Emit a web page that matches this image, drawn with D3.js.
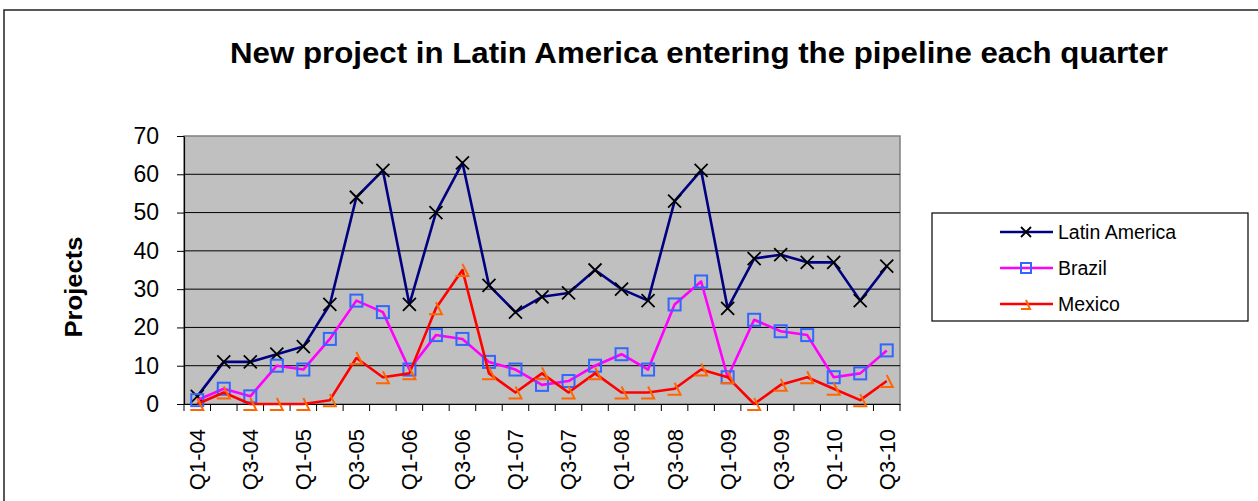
<!DOCTYPE html>
<html>
<head>
<meta charset="utf-8">
<script src="https://d3js.org/d3.v7.min.js"></script>
<style>
  html, body { margin: 0; padding: 0; background: #fff; }
  svg { display: block; font-family: Arial, "Liberation Sans", sans-serif; }
</style>
</head>
<body>
<svg id="chart" width="1258" height="501"></svg>
<script>
const categories = ["Q1-04","Q2-04","Q3-04","Q4-04","Q1-05","Q2-05","Q3-05","Q4-05",
  "Q1-06","Q2-06","Q3-06","Q4-06","Q1-07","Q2-07","Q3-07","Q4-07",
  "Q1-08","Q2-08","Q3-08","Q4-08","Q1-09","Q2-09","Q3-09","Q4-09",
  "Q1-10","Q2-10","Q3-10"];
const tickLabels = ["Q1-04","Q3-04","Q1-05","Q3-05","Q1-06","Q3-06","Q1-07","Q3-07",
  "Q1-08","Q3-08","Q1-09","Q3-09","Q1-10","Q3-10"];
const latinAmerica = [2,11,11,13,15,26,54,61,26,50,63,31,24,28,29,35,30,27,53,61,25,38,39,37,37,27,36];
const brazil       = [1,4,2,10,9,17,27,24,9,18,17,11,9,5,6,10,13,9,26,32,7,22,19,18,7,8,14];
const mexico       = [0,3,0,0,0,1,12,7,8,25,35,8,3,8,3,8,3,3,4,9,7,0,5,7,4,1,6];
const yTicks = [0,10,20,30,40,50,60,70];
const seriesNames = ["Latin America","Brazil","Mexico"];

const title = "New project in Latin America entering the pipeline each quarter";
const yTitle = "Projects";

const svg = d3.select("#chart");
const plot = {left: 184, right: 900, top: 136, bottom: 404};

// outer chart frame
svg.append("path")
  .attr("d", "M4,505 L4,10 L1262,10")
  .attr("fill", "none").attr("stroke", "#222").attr("stroke-width", 1.5);

const x = d3.scaleBand().domain(categories).range([plot.left, plot.right]).padding(0);
const y = d3.scaleLinear().domain([0, 70]).range([plot.bottom, plot.top]);
const cx = c => x(c) + x.bandwidth() / 2;

// plot area
svg.append("rect")
  .attr("x", plot.left).attr("y", plot.top)
  .attr("width", plot.right - plot.left).attr("height", plot.bottom - plot.top)
  .attr("fill", "#C0C0C0").attr("stroke", "#808080").attr("stroke-width", 1.5);

// gridlines
svg.append("g").selectAll("line").data(yTicks.filter(d => d > 0 && d < 70)).join("line")
  .attr("x1", plot.left).attr("x2", plot.right)
  .attr("y1", d => y(d)).attr("y2", d => y(d))
  .attr("stroke", "#000").attr("stroke-width", 1);

// y axis
const yAxis = svg.append("g").attr("transform", `translate(${plot.left},0)`)
  .call(d3.axisLeft(y).tickValues(yTicks).tickSize(7).tickPadding(18).tickSizeOuter(0));
yAxis.select(".domain").attr("stroke", "#000").attr("stroke-width", 1.2);
yAxis.selectAll(".tick line").attr("stroke", "#000");
yAxis.selectAll("text").attr("font-size", "23px").attr("fill", "#000")
  .attr("font-family", "Arial, 'Liberation Sans', sans-serif");

// x axis
const xAxis = svg.append("g").attr("transform", `translate(0,${plot.bottom})`)
  .call(d3.axisBottom(x).tickSize(0).tickFormat(d => tickLabels.includes(d) ? d : ""));
xAxis.select(".domain").attr("stroke", "#000").attr("stroke-width", 1.2);
xAxis.selectAll("text")
  .attr("font-size", "22px").attr("fill", "#000")
  .attr("font-family", "Arial, 'Liberation Sans', sans-serif")
  .attr("text-anchor", "end")
  .attr("transform", "rotate(-90)")
  .attr("x", -25).attr("y", 0).attr("dy", "0.36em");
// x boundary ticks
const bounds = categories.map(c => x(c)).concat([plot.right]);
svg.append("g").selectAll("line").data(bounds).join("line")
  .attr("x1", d => d).attr("x2", d => d)
  .attr("y1", plot.bottom).attr("y2", plot.bottom + 7)
  .attr("stroke", "#000").attr("stroke-width", 1);

// title
svg.append("text").text(title)
  .attr("x", 699).attr("y", 63).attr("text-anchor", "middle")
  .attr("font-size", "29px").attr("font-weight", "bold")
  .attr("textLength", 938).attr("lengthAdjust", "spacingAndGlyphs");

// y title
svg.append("text").text(yTitle)
  .attr("transform", "translate(82,287) rotate(-90)")
  .attr("text-anchor", "middle")
  .attr("font-size", "23px").attr("font-weight", "bold")
  .attr("textLength", 101).attr("lengthAdjust", "spacingAndGlyphs");

const series = [
  {name: seriesNames[0], values: latinAmerica, line: "#000080", marker: "x"},
  {name: seriesNames[1], values: brazil, line: "#FF00FF", marker: "square"},
  {name: seriesNames[2], values: mexico, line: "#FF0000", marker: "tri"}
];

function drawMarker(g, type, px, py) {
  if (type === "x") {
    g.append("path").attr("d", `M${px-6.5},${py-6.5}L${px+6.5},${py+6.5}M${px-6.5},${py+6.5}L${px+6.5},${py-6.5}`)
      .attr("stroke", "#000").attr("stroke-width", 1.8).attr("fill", "none");
  } else if (type === "square") {
    g.append("rect").attr("x", px-6).attr("y", py-6).attr("width", 12).attr("height", 12)
      .attr("fill", "none").attr("stroke", "#3366FF").attr("stroke-width", 2);
  } else {
    g.append("path").attr("d", `M${px},${py-6}L${px+6},${py+6}L${px-7},${py+6}`)
      .attr("fill", "none").attr("stroke", "#FF6600").attr("stroke-width", 2);
  }
}

const line = d3.line().x((d, i) => cx(categories[i])).y(d => y(d));
series.forEach(s => {
  const g = svg.append("g");
  g.append("path").datum(s.values).attr("d", line)
    .attr("fill", "none").attr("stroke", s.line).attr("stroke-width", 2.6)
    .attr("stroke-linejoin", "round");
  s.values.forEach((v, i) => drawMarker(g, s.marker, cx(categories[i]), y(v)));
});

// legend
const lg = svg.append("g");
lg.append("rect").attr("x", 932).attr("y", 213).attr("width", 316).attr("height", 108)
  .attr("fill", "#fff").attr("stroke", "#000").attr("stroke-width", 1.2);
const legendY = [232, 268, 304];
series.forEach((s, i) => {
  const yy = legendY[i];
  lg.append("line").attr("x1", 1000).attr("x2", 1053).attr("y1", yy).attr("y2", yy)
    .attr("stroke", s.line).attr("stroke-width", 2.6);
  if (s.marker === "x") {
    lg.append("path").attr("d", `M1021,${yy-5}L1031,${yy+5}M1021,${yy+5}L1031,${yy-5}`)
      .attr("stroke", "#000").attr("stroke-width", 1.8);
  } else if (s.marker === "square") {
    lg.append("rect").attr("x", 1021).attr("y", yy-5).attr("width", 10).attr("height", 10)
      .attr("fill", "none").attr("stroke", "#3366FF").attr("stroke-width", 2);
  } else {
    lg.append("path").attr("d", `M1026,${yy-4}L1030,${yy+5}L1021,${yy+5}`)
      .attr("fill", "none").attr("stroke", "#FF6600").attr("stroke-width", 2);
  }
  lg.append("text").text(s.name).attr("x", 1058).attr("y", yy).attr("dy", "0.35em")
    .attr("font-size", "19.5px").attr("fill", "#000");
});
</script>
</body>
</html>
